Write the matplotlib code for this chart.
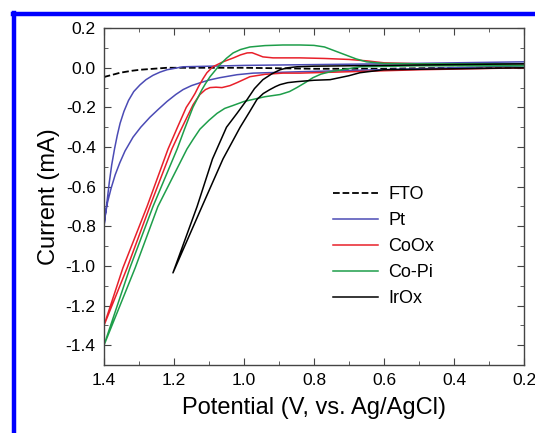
import matplotlib
matplotlib.use('Agg')
import matplotlib.pyplot as plt
from matplotlib.lines import Line2D
from matplotlib.ticker import MultipleLocator, FormatStrFormatter

plt.rcParams['font.family'] = ['Liberation Sans', 'DejaVu Sans']
plt.rcParams['axes.unicode_minus'] = False

# FTO (dashed)
fto_x = [1.4, 1.397, 1.375, 1.354, 1.32, 1.297, 1.22, 1.0, 0.8, 0.6, 0.4, 0.2]
fto_y = [-0.05, -0.045, -0.035, -0.025, -0.015, -0.01, 0.0, 0.0, -0.005, -0.005, 0.0, 0.0]

# Pt: upper branch out to 1.4 V, lower branch back
pt_x = [0.2, 0.6, 1.0, 1.174, 1.22, 1.24, 1.26, 1.28, 1.297, 1.315, 1.33, 1.343, 1.354, 1.362, 1.37,
        1.378, 1.385, 1.391, 1.396, 1.4,
        1.397, 1.39, 1.38, 1.368, 1.355, 1.34, 1.317, 1.295, 1.269, 1.245, 1.22, 1.195, 1.174, 1.15,
        1.126, 1.1, 1.069, 1.02, 0.974, 0.84, 0.5, 0.2]
pt_y = [0.03, 0.02, 0.012, 0.005, -0.01, -0.022, -0.038, -0.06, -0.086, -0.12, -0.165, -0.22, -0.28, -0.34, -0.41,
        -0.49, -0.58, -0.67, -0.74, -0.80,
        -0.75, -0.68, -0.61, -0.54, -0.48, -0.42, -0.35, -0.30, -0.25, -0.21, -0.17, -0.135, -0.11, -0.09,
        -0.076, -0.062, -0.05, -0.035, -0.027, -0.02, -0.005, 0.01]

# CoOx
coox_x = [0.2, 0.5, 0.6, 0.65, 0.7, 0.77, 0.84, 0.88, 0.917, 0.946, 0.962, 0.977, 0.991, 1.01, 1.03,
          1.06, 1.089, 1.106, 1.117, 1.13, 1.14, 1.152, 1.165, 1.19, 1.217, 1.277, 1.346, 1.4,
          1.334, 1.269, 1.206, 1.185, 1.163, 1.145, 1.126, 1.11, 1.097, 1.08, 1.063, 1.04, 1.02, 0.983,
          0.94, 0.889, 0.84, 0.7, 0.5, 0.2]
coox_y = [0.02, 0.02, 0.025, 0.035, 0.042, 0.047, 0.05, 0.05, 0.05, 0.055, 0.066, 0.076, 0.075, 0.065, 0.05,
          0.03, 0.005, -0.025, -0.055, -0.095, -0.13, -0.165, -0.20, -0.30, -0.41, -0.70, -1.01, -1.30,
          -1.01, -0.70, -0.41, -0.33, -0.25, -0.185, -0.135, -0.11, -0.10, -0.098, -0.10, -0.09, -0.075, -0.045,
          -0.033, -0.027, -0.027, -0.02, -0.01, 0.0]

# Co-Pi
copi_x = [0.2, 0.5, 0.6, 0.65, 0.68, 0.71, 0.74, 0.77, 0.8, 0.84, 0.889, 0.94, 0.983, 1.01, 1.031,
          1.05, 1.069, 1.083, 1.097, 1.11, 1.12, 1.133, 1.146, 1.17, 1.191, 1.26, 1.326, 1.4,
          1.311, 1.246, 1.163, 1.145, 1.126, 1.1, 1.077, 1.055, 1.031, 1.0, 0.94, 0.897, 0.87, 0.849,
          0.825, 0.803, 0.78, 0.754, 0.669, 0.5, 0.2]
copi_y = [0.02, 0.02, 0.022, 0.03, 0.045, 0.065, 0.085, 0.105, 0.113, 0.115, 0.115, 0.112, 0.105, 0.092, 0.075,
          0.048, 0.015, -0.015, -0.045, -0.08, -0.11, -0.155, -0.20, -0.31, -0.41, -0.70, -1.01, -1.40,
          -1.01, -0.70, -0.41, -0.36, -0.31, -0.265, -0.23, -0.205, -0.19, -0.17, -0.146, -0.135, -0.12,
          -0.10, -0.075, -0.05, -0.032, -0.02, 0.005, 0.01, 0.01]

# IrOx
irox_x = [0.2, 0.7, 0.8, 0.849, 0.875, 0.897, 0.92, 0.946, 0.97, 0.991, 1.02, 1.05, 1.09, 1.134, 1.203,
          1.12, 1.06, 1.011, 0.985, 0.963, 0.945, 0.926, 0.91, 0.897, 0.875, 0.849, 0.8, 0.754, 0.7,
          0.669, 0.6, 0.2]
irox_y = [0.02, 0.01, 0.008, 0.005, 0.0, -0.01, -0.03, -0.06, -0.105, -0.16, -0.23, -0.30, -0.46, -0.70, -1.035,
          -0.70, -0.46, -0.30, -0.225, -0.16, -0.13, -0.11, -0.095, -0.085, -0.075, -0.07, -0.063, -0.06, -0.04,
          -0.025, -0.01, 0.0]

fig = plt.figure(figsize=(5.35, 4.33), dpi=100)
ax = fig.add_axes([0.1944, 0.157, 0.785, 0.778])

ax.plot(fto_x, fto_y, color='black', ls='--', lw=1.3, label='FTO')
ax.plot(pt_x, pt_y, color='#4b4bb5', lw=1.1, label='Pt')
ax.plot(coox_x, coox_y, color='#e8202a', lw=1.1, label='CoOx')
ax.plot(copi_x, copi_y, color='#1e9e4a', lw=1.1, label='Co-Pi')
ax.plot(irox_x, irox_y, color='black', lw=1.1, label='IrOx')

ax.set_xlim(1.4, 0.2)
ax.set_ylim(-1.5, 0.2)
ax.xaxis.set_major_locator(MultipleLocator(0.2))
ax.xaxis.set_minor_locator(MultipleLocator(0.1))
ax.yaxis.set_major_locator(MultipleLocator(0.2))
ax.yaxis.set_minor_locator(MultipleLocator(0.1))
ax.xaxis.set_major_formatter(FormatStrFormatter('%.1f'))
ax.yaxis.set_major_formatter(FormatStrFormatter('%.1f'))
ax.tick_params(which='both', direction='in', top=True, right=True, labelsize=12.5, color='#444444')
ax.tick_params(which='major', length=5, pad=6)
ax.tick_params(which='minor', length=3)
for s in ax.spines.values():
    s.set_color('#444444')
    s.set_linewidth(1.0)

ax.set_xlabel('Potential (V, vs. Ag/AgCl)', fontsize=17, labelpad=6)
ax.set_ylabel('Current (mA)', fontsize=17, labelpad=4)

ax.legend(loc='upper left', bbox_to_anchor=(0.529, 0.552), frameon=False, fontsize=13,
          handlelength=2.45, handletextpad=0.6, labelspacing=0.5, borderaxespad=0, borderpad=0.4)

# blue frame
fig.add_artist(Line2D([0.024, 1.0], [0.968, 0.968], color='blue', lw=3.2, transform=fig.transFigure))
fig.add_artist(Line2D([0.0265, 0.0265], [0.0, 0.971], color='blue', lw=3.2, transform=fig.transFigure))

fig.savefig('out.png', dpi=100)
